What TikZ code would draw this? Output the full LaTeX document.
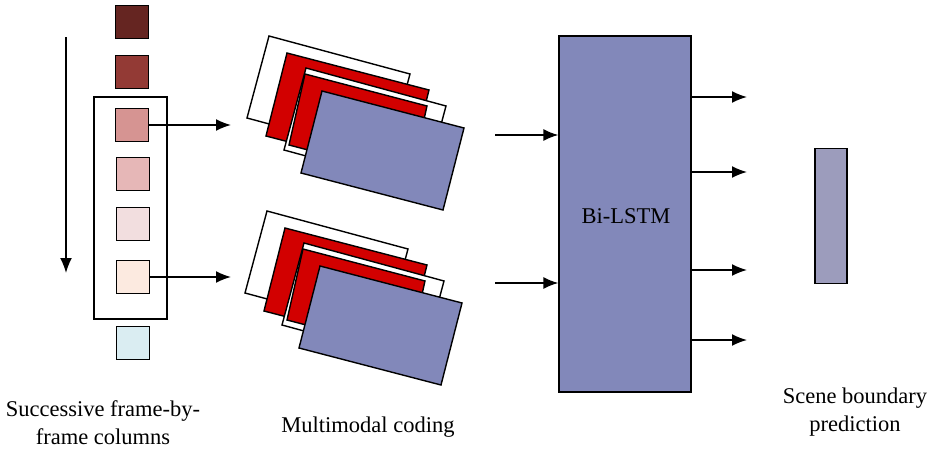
\documentclass[tikz,border=0pt]{standalone}
\usepackage{fontspec}
\setmainfont{Liberation Serif}
\usetikzlibrary{arrows.meta}
\begin{document}
\begin{tikzpicture}[x=1pt,y=-1pt,
  sq/.style={draw=black,line width=1.3pt,minimum width=33pt,minimum height=33pt,inner sep=0pt},
  arr/.style={-{Latex[length=15pt,width=12pt]},line width=1.6pt},
  card/.style={draw=black,line width=1.4pt,line join=miter},
  lbl/.style={font=\fontsize{22.5}{28}\selectfont,align=center}]
\useasboundingbox (0,0) rectangle (935,450);
\definecolor{c1}{HTML}{652521}\definecolor{c2}{HTML}{933A35}
\definecolor{c3}{HTML}{D69492}\definecolor{c4}{HTML}{E6B7B7}
\definecolor{c5}{HTML}{F2DEDF}\definecolor{c6}{HTML}{FCEAE0}
\definecolor{c7}{HTML}{DAEDF2}\definecolor{blu}{HTML}{8288BA}
\definecolor{rd}{HTML}{D20000}\definecolor{gb}{HTML}{9C9CBC}
% column
\node[draw,line width=1.3pt,minimum width=73pt,minimum height=222pt,inner sep=0pt] (win) at (130.5,208) {};
\node[sq,fill=c1] (s1) at (132,22) {};
\node[sq,fill=c2] (s2) at (132,72) {};
\node[sq,fill=c3] (s3) at (132,125) {};
\node[sq,fill=c4] (s4) at (133,174) {};
\node[sq,fill=c5] (s5) at (133,224) {};
\node[sq,fill=c6] (s6) at (133,277) {};
\node[sq,fill=c7] (s7) at (133,343) {};
\coordinate (t0) at (66,37); \coordinate (t1) at (66,273);
\draw[arr] (t0) -- (t1);
\coordinate (m1) at (231,125); \coordinate (m2) at (231,277);
\draw[arr] (s3.east) -- (m1);
\draw[arr] (s6.east) -- (m2);
% cards
\foreach \dx/\dy in {0/0,-2/175}{
\begin{scope}[shift={(\dx,\dy)}]
\draw[card,fill=white] (269,36) -- ++(141,38) -- ++(-22,82) -- ++(-141,-38) -- cycle;
\draw[card,fill=rd] (287,53) -- ++(142,37) -- ++(-21,83) -- ++(-142,-37) -- cycle;
\draw[card,fill=white] (306,68) -- ++(140,38) -- ++(-22,82) -- ++(-140,-38) -- cycle;
\draw[card,fill=rd] (305,74) -- ++(122,32) -- ++(-16,71) -- ++(-122,-32) -- cycle;
\draw[card,fill=blu] (322,91) -- ++(142,37) -- ++(-21,82) -- ++(-142,-37) -- cycle;
\end{scope}}
% Bi-LSTM
\node[draw,line width=1.3pt,fill=blu,minimum width=132pt,minimum height=356pt,inner sep=0pt] (lstm) at (625,214) {};
\node[lbl] (lt) at (626,216) {Bi-LSTM};
\coordinate (i1) at (495,135); \coordinate (i2) at (495,283);
\draw[arr] (i1) -- (i1 -| lstm.west);
\draw[arr] (i2) -- (i2 -| lstm.west);
\foreach \y/\n in {97/a,172/b,270/c,340/d}{
  \coordinate (o\n) at (747,\y);
  \draw[arr] (o\n -| lstm.east) -- (o\n);}
\node[draw,line width=1.3pt,fill=gb,minimum width=32pt,minimum height=135pt,inner sep=0pt] (pred) at (831,216) {};
% labels
\node[lbl] (l1) at (103,423) {Successive frame-by-\\frame columns};
\node[lbl] (l2) at (368,427) {Multimodal coding};
\node[lbl] (l3) at (855,412) {Scene boundary\\prediction};
\end{tikzpicture}
\end{document}
